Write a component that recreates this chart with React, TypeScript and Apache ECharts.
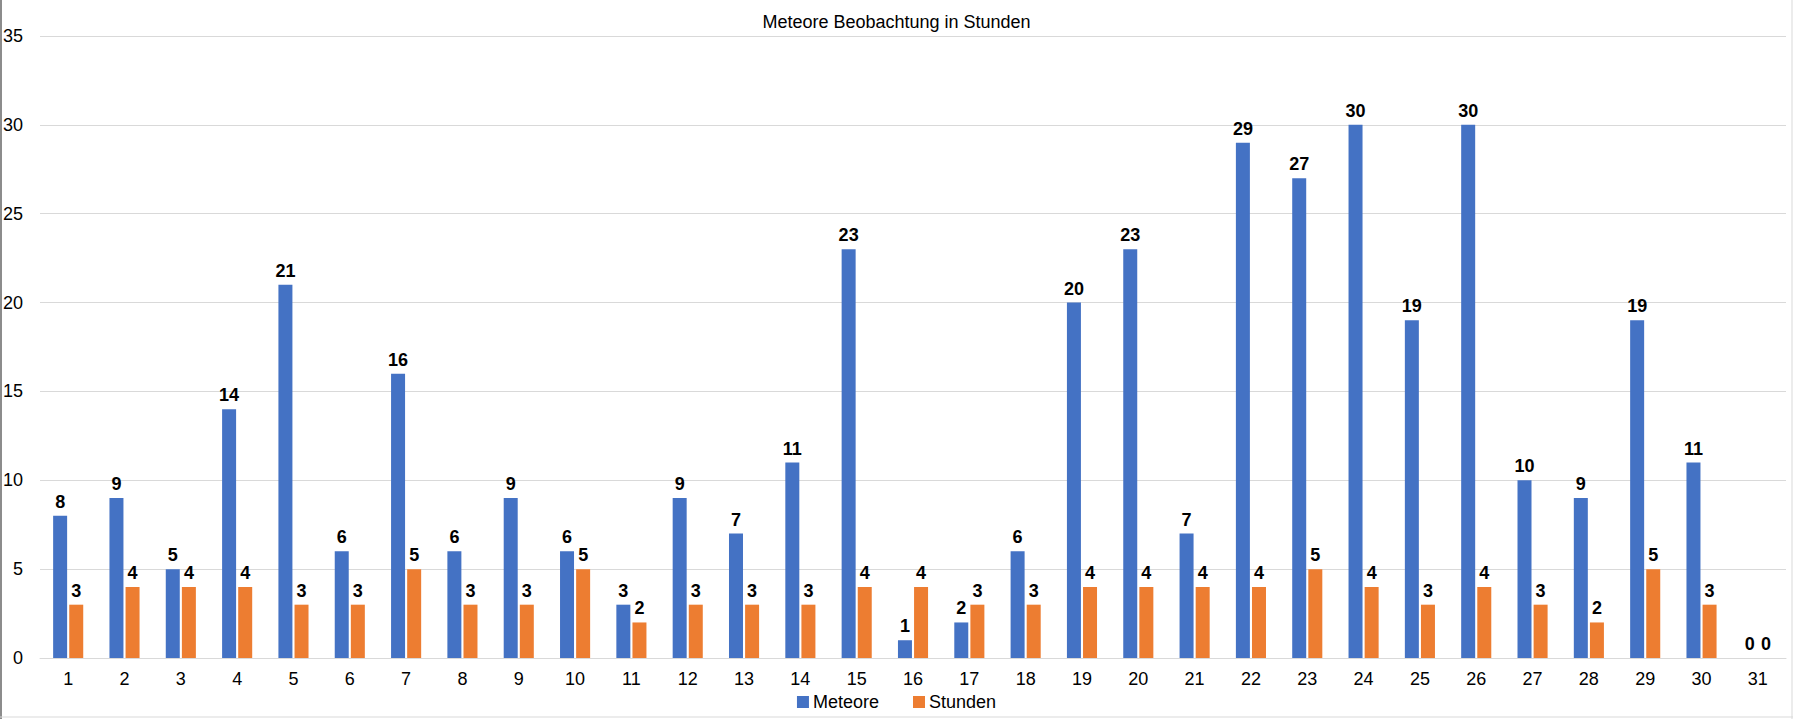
import React, { useEffect, useRef } from "react";
import * as echarts from "echarts";

const days = Array.from({ length: 31 }, (_, i) => String(i + 1));
const meteore = [8, 9, 5, 14, 21, 6, 16, 6, 9, 6, 3, 9, 7, 11, 23, 1, 2, 6, 20, 23, 7, 29, 27, 30, 19, 30, 10, 9, 19, 11, 0];
const stunden = [3, 4, 4, 4, 3, 3, 5, 3, 3, 5, 2, 3, 3, 3, 4, 4, 3, 3, 4, 4, 4, 4, 5, 4, 3, 4, 3, 2, 5, 3, 0];

const W = 1793;
const H = 719;

const App: React.FC = () => {
	const chartRef = useRef<HTMLDivElement>(null);

	useEffect(() => {
		document.body.style.margin = "0";
		if (!chartRef.current) return;
		const chart = echarts.init(chartRef.current, undefined, { renderer: "svg" });

		const label = {
			show: true,
			position: "top" as const,
			distance: 5,
			color: "#000",
			fontWeight: "bold" as const,
			fontSize: 18,
			fontFamily: "Liberation Sans, Arial, sans-serif",
		};

		chart.setOption({
			animation: false,
			textStyle: { fontFamily: "Liberation Sans, Arial, sans-serif" },
			title: {
				text: "Meteore Beobachtung in Stunden",
				left: "center",
				top: 8,
				textStyle: { fontSize: 18, fontWeight: "normal", color: "#000" },
			},
			legend: {
				data: ["Meteore", "Stunden"],
				bottom: 3,
				left: "center",
				icon: "rect",
				itemWidth: 12,
				itemHeight: 12,
				itemGap: 34,
				textStyle: { fontSize: 18, color: "#000", padding: [0, 0, 0, -1] },
			},
			grid: { left: 39, right: 7, top: 36, bottom: 61 },
			xAxis: {
				type: "category",
				data: days,
				axisLine: { lineStyle: { color: "#d9d9d9" } },
				axisTick: { show: false },
				axisLabel: { fontSize: 18, color: "#000", margin: 12 },
			},
			yAxis: {
				type: "value",
				min: 0,
				max: 35,
				interval: 5,
				axisLabel: { fontSize: 18, color: "#000", margin: 17 },
				splitLine: { lineStyle: { color: "#d9d9d9" } },
			},
			series: [
				{
					name: "Meteore",
					type: "bar",
					data: meteore,
					barWidth: 14,
					barGap: "15%",
					itemStyle: { color: "#4472C4" },
					label,
				},
				{
					name: "Stunden",
					type: "bar",
					data: stunden,
					barWidth: 14,
					itemStyle: { color: "#ED7D31" },
					label,
				},
			],
			graphic: [
				{ type: "line", shape: { x1: 1, y1: 0, x2: 1, y2: H }, style: { stroke: "#8c8c8c", lineWidth: 2 } },
				{ type: "line", shape: { x1: W - 1, y1: 0, x2: W - 1, y2: H }, style: { stroke: "#d9d9d9", lineWidth: 1 } },
				{ type: "line", shape: { x1: 0, y1: H - 2, x2: W, y2: H - 2 }, style: { stroke: "#d9d9d9", lineWidth: 1 } },
			],
		});

		return () => {
			chart.dispose();
		};
	}, []);

	return <div ref={chartRef} style={{ width: W, height: H }} />;
};

export default App;
